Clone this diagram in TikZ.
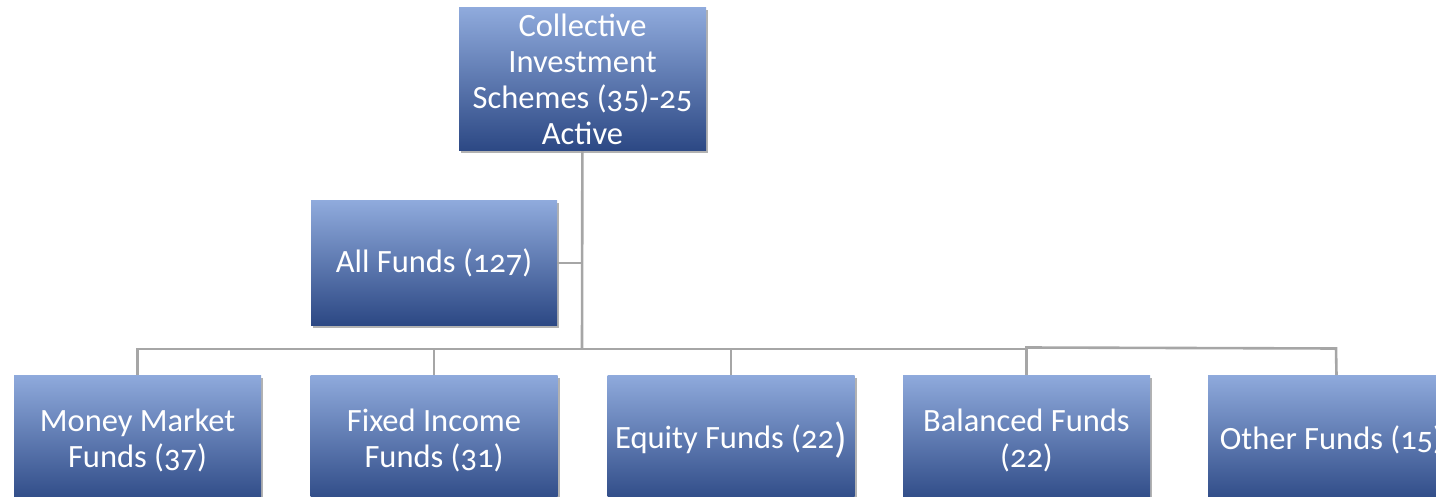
\documentclass[tikz,border=0pt]{standalone}
\usepackage{fontspec}
\setmainfont[Numbers=OldStyle]{Carlito}
\usetikzlibrary{shadows}
\definecolor{boxtop}{RGB}{143,170,220}
\definecolor{boxmid}{RGB}{72,114,196}
\definecolor{boxbot}{RGB}{44,72,132}
\definecolor{conncol}{RGB}{166,166,166}
\tikzset{
  fundbox/.style={rectangle, inner sep=0pt, minimum width=247pt, text=white,
    top color=boxtop, middle color=boxmid, bottom color=boxbot,
    drop shadow={shadow xshift=2pt, shadow yshift=-2.5pt, opacity=0.3, fill=black},
    align=center, font=\fontsize{32.5}{36}\selectfont},
  conn/.style={draw=conncol, line width=2.6pt}
}
\begin{document}
\begin{tikzpicture}[x=1pt, y=-1pt]
\useasboundingbox (0,0) rectangle (1436,497);
\clip (0,0) rectangle (1436,497);
\node[fundbox, minimum height=143pt] (top) at (582.5,79.5) {Collective\\Investment\\Schemes (35)-25\\Active};
\node[fundbox, minimum height=124pt, minimum width=246pt] (all) at (434,263) {All Funds (127)};
\node[fundbox, minimum height=130pt] (mm) at (137.5,440) {Money Market\\Funds (37)};
\node[fundbox, minimum height=130pt] (fi) at (434,440) {Fixed Income\\Funds (31)};
\node[fundbox, minimum height=130pt] (eq) at (731,440) {Equity Funds (22\raisebox{-0.12em}{\fontsize{42}{42}\selectfont)}};
\node[fundbox, minimum height=130pt] (bal) at (1026.5,440) {Balanced Funds\\(22)};
\node[fundbox, minimum height=130pt] (oth) at (1331.5,440) {Other Funds (15)};
\coordinate (bus) at (582,349);
\coordinate (kink) at (1026.5,347.5);
\draw[conn] (top) -- (bus);
\draw[conn] (all) -- (all -| bus);
\draw[conn] (mm.north) |- (bus);
\draw[conn] (fi.north) -- (fi.north |- bus);
\draw[conn] (eq.north) |- (bus);
\draw[conn] (bal.north) |- (bus);
\draw[conn] (bal.north) -- (kink) -- (1336,348.5) -- (1336.5,375);
\end{tikzpicture}
\end{document}
